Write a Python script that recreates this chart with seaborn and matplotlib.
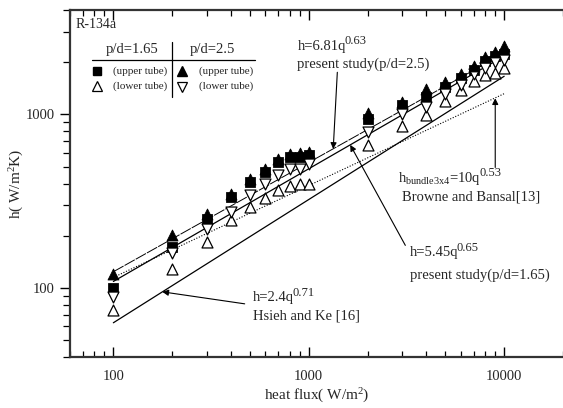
import numpy as np
import pandas as pd
import matplotlib
matplotlib.use("Agg")
import matplotlib.pyplot as plt
import seaborn as sns
from matplotlib.ticker import LogLocator, NullFormatter, FixedLocator, FixedFormatter

sns.set_theme(style="white")
plt.rcParams['font.family'] = ['Liberation Serif', 'DejaVu Serif']
plt.rcParams['mathtext.fontset'] = 'custom'
plt.rcParams['mathtext.rm'] = 'Liberation Serif'
plt.rcParams['mathtext.default'] = 'regular'

# ---- data ----
heat_flux = [100, 200, 300, 400, 500, 600, 700, 800, 900, 1000,
             2000, 3000, 4000, 5000, 6000, 7000, 8000, 9000, 10000]
h_165_upper = [100, 172, 251, 334, 408, 465, 531, 568, 572, 581,
               940, 1127, 1259, 1436, 1626, 1815, 2027, 2158, 2234]
h_165_lower = [75, 128, 184, 245, 292, 331, 365, 386, 399, 399,
               663, 853, 996, 1189, 1375, 1549, 1679, 1730, 1849]
h_25_upper = [121, 201, 268, 349, 427, 486, 556, 594, 599, 607,
              1020, 1178, 1406, 1535, 1700, 1913, 2138, 2285, 2494]
h_25_lower = [89, 158, 220, 274, 342, 395, 446, 482, 482, 515,
              788, 1009, 1111, 1315, 1488, 1700, 1858, 2000, 2048]

line_q = [100, 10000]
fit_25 = [124, 2255]      # h=6.81q^0.63
fit_165 = [109, 2170]     # h=5.45q^0.65
browne = [115, 1318]      # h=10q^0.53
hsieh = [63, 1660]        # h=2.4q^0.71

W, H = 563, 408
fig = plt.figure(figsize=(W / 100, H / 100), dpi=100)
L, R, T, B = 70, 563, 10, 357
ax = fig.add_axes([L / W, 1 - B / H, (R - L) / W, (B - T) / H])
ax.set_facecolor('white')

df_lines = pd.DataFrame({
    'q': line_q * 4,
    'h': fit_25 + fit_165 + browne + hsieh,
    'name': ['a'] * 2 + ['b'] * 2 + ['c'] * 2 + ['d'] * 2,
})
sns.lineplot(data=df_lines[df_lines.name == 'a'], x='q', y='h', ax=ax,
             color='black', lw=0.7, linestyle=(0, (12, 1.2)))
sns.lineplot(data=df_lines[df_lines.name == 'b'], x='q', y='h', ax=ax,
             color='black', lw=0.9)
sns.lineplot(data=df_lines[df_lines.name == 'c'], x='q', y='h', ax=ax,
             color='black', lw=0.8, linestyle=(0, (1, 1.5)))
sns.lineplot(data=df_lines[df_lines.name == 'd'], x='q', y='h', ax=ax,
             color='black', lw=0.9)

ms = 62
sns.scatterplot(x=heat_flux, y=h_165_upper, marker='s', color='black',
                edgecolor='black', s=ms * 0.8, ax=ax, zorder=5)
sns.scatterplot(x=heat_flux, y=h_165_lower, marker='^', color='white',
                edgecolor='black', linewidth=0.9, s=ms, ax=ax, zorder=5)
sns.scatterplot(x=heat_flux, y=h_25_upper, marker='^', color='black',
                edgecolor='black', s=ms, ax=ax, zorder=6)
sns.scatterplot(x=heat_flux, y=h_25_lower, marker='v', color='white',
                edgecolor='black', linewidth=0.9, s=ms, ax=ax, zorder=5)

ax.set_xscale('log')
ax.set_yscale('log')
ax.set_xlim(60, 20000)
ax.set_ylim(40, 4000)

for s in ['left', 'bottom', 'top']:
    ax.spines[s].set_linewidth(1.6)
    ax.spines[s].set_color('#333333')
ax.spines['right'].set_visible(False)

ax.xaxis.set_major_locator(FixedLocator([100, 1000, 10000]))
ax.xaxis.set_major_formatter(FixedFormatter(['100', '1000', '10000']))
ax.xaxis.set_minor_locator(LogLocator(base=10, subs=np.arange(2, 10)))
ax.xaxis.set_minor_formatter(NullFormatter())
ax.yaxis.set_major_locator(FixedLocator([100, 1000]))
ax.yaxis.set_major_formatter(FixedFormatter(['100', '1000']))
ax.yaxis.set_minor_locator(LogLocator(base=10, subs=np.arange(2, 10)))
ax.yaxis.set_minor_formatter(NullFormatter())

ax.tick_params(axis='x', which='both', direction='in', top=True, bottom=True,
               labelsize=10.5, pad=9, color='black')
ax.tick_params(axis='x', which='major', length=7, width=1.0)
ax.tick_params(axis='x', which='minor', length=4, width=0.9)
ax.tick_params(axis='y', which='both', direction='out', left=True,
               labelsize=10.5, pad=4, color='black')
ax.tick_params(axis='y', which='major', length=7, width=1.0)
ax.tick_params(axis='y', which='minor', length=5, width=0.9)

ax.set_xlabel('heat flux( W/m$^{2}$)', fontsize=11, labelpad=3)
ax.set_ylabel('h( W/m$^{2}$K)', fontsize=11, labelpad=0)

# R-134a and legend table (axes fraction from pixel positions)
def fx(px):
    return (px - L) / (R - L)

def fy(py):
    return (B - py) / (B - T)

ax.text(fx(76), fy(24), 'R-134a', fontsize=10, ha='left', va='center',
        transform=ax.transAxes)
ax.text(fx(132), fy(49), 'p/d=1.65', fontsize=10.5, ha='center', va='center',
        transform=ax.transAxes)
ax.text(fx(212), fy(49), 'p/d=2.5', fontsize=10.5, ha='center', va='center',
        transform=ax.transAxes)
ax.plot([fx(92), fx(255)], [fy(59.5), fy(59.5)], color='black', lw=0.9,
        transform=ax.transAxes)
ax.plot([fx(172), fx(172)], [fy(42), fy(97)], color='black', lw=0.9,
        transform=ax.transAxes)
lm = 7.5
ax.plot([fx(97)], [fy(71)], marker='s', color='black', ms=lm * 0.85,
        transform=ax.transAxes, clip_on=False)
ax.plot([fx(97)], [fy(86)], marker='^', mfc='white', mec='black', ms=lm,
        mew=0.9, transform=ax.transAxes, clip_on=False)
ax.plot([fx(182)], [fy(71)], marker='^', color='black', ms=lm,
        transform=ax.transAxes, clip_on=False)
ax.plot([fx(182)], [fy(87)], marker='v', mfc='white', mec='black', ms=lm,
        mew=0.9, transform=ax.transAxes, clip_on=False)
for x0, y0, t in [(140, 71, '(upper tube)'), (140, 86, '(lower tube)'),
                  (226, 71, '(upper tube)'), (226, 86, '(lower tube)')]:
    ax.text(fx(x0), fy(y0), t, fontsize=8, ha='center', va='center',
            transform=ax.transAxes)

# annotations
ap = dict(arrowstyle='-|>', color='black', lw=0.8, mutation_scale=9,
          shrinkA=0, shrinkB=0)
fs = 10.5


def eq(x, y, base, sup, frac=0.42):
    t = ax.text(x, y, base, fontsize=fs, ha='left', va='center')
    ax.annotate(sup, xy=(1.0, frac), xycoords=t, xytext=(-1.2, 0),
                textcoords='offset points', fontsize=9,
                ha='left', va='bottom')
    return t


eq(875, 2480, 'h=6.81q', '0.63')
ax.text(875, 1950, 'present study(p/d=2.5)', fontsize=fs, ha='left', va='center')
ax.annotate('', xy=(1334, 633), xytext=(1400, 1750), arrowprops=ap)

eq(2870, 430, 'h$_{bundle3x4}$=10q', '0.53', frac=0.42)
ax.text(3000, 333, 'Browne and Bansal[13]', fontsize=fs, ha='left', va='center')
ax.annotate('', xy=(9000, 1240), xytext=(9000, 495), arrowprops=ap)

eq(3300, 160, 'h=5.45q', '0.65')
ax.text(3300, 119, 'present study(p/d=1.65)', fontsize=fs, ha='left', va='center')
ax.annotate('', xy=(1630, 668), xytext=(3120, 176), arrowprops=ap)

eq(520, 88, 'h=2.4q', '0.71')
ax.text(520, 69, 'Hsieh and Ke [16]', fontsize=fs, ha='left', va='center')
ax.annotate('', xy=(178, 95), xytext=(470, 81), arrowprops=ap)

fig.savefig('out.png', dpi=100, facecolor='white')
